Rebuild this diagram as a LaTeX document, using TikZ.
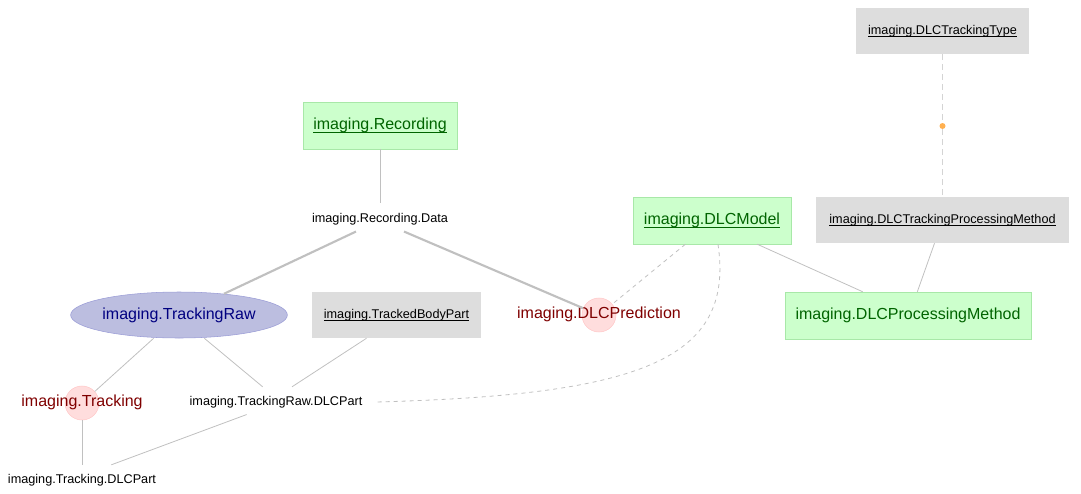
\documentclass[tikz,border=0pt]{standalone}
\usepackage{amsmath}
\usepackage{fontspec}
\setmainfont{Liberation Sans}
\usepackage{tikz}
\usetikzlibrary{positioning, shapes.geometric}

\definecolor{manfill}{HTML}{CCFFCC}
\definecolor{mandraw}{HTML}{A8E8A8}
\definecolor{mantext}{HTML}{006400}
\definecolor{lookfill}{HTML}{DDDDDD}
\definecolor{compfill}{HTML}{FFDDDD}
\definecolor{compdraw}{HTML}{FFC8C8}
\definecolor{comptext}{HTML}{7F0000}
\definecolor{impfill}{HTML}{BCBEE0}
\definecolor{impdraw}{HTML}{9A9CD6}
\definecolor{imptext}{HTML}{000080}
\definecolor{edgegray}{HTML}{C0C0C0}
\definecolor{dotorange}{HTML}{FFB050}

\newcommand{\tbl}[1]{\underline{\smash[b]{#1}}}

\begin{document}
\begin{tikzpicture}[
  x=0.75pt, y=-0.75pt,
  every node/.style={font=\fontsize{9.5}{11}\selectfont, inner sep=0pt,
                     text height=6.8pt, text depth=1.6pt},
  manual/.style={draw=mandraw, fill=manfill, text=mantext,
                 font=\fontsize{12}{14}\selectfont, minimum height=35.25pt,
                 text height=8.6pt, text depth=2pt},
  lookup/.style={fill=lookfill, text=black, minimum height=34.5pt},
  computed/.style={circle, draw=compdraw, fill=compfill, minimum size=25.5pt},
  comptxt/.style={text=comptext, font=\fontsize{12}{14}\selectfont,
                  text height=8.6pt, text depth=2pt},
  imported/.style={ellipse, draw=impdraw, fill=impfill, text=imptext,
                   font=\fontsize{12}{14}\selectfont,
                   text height=8.6pt, text depth=2pt,
                   minimum width=162pt, minimum height=34.5pt},
  joint/.style={circle, fill=dotorange, minimum size=4.5pt,
                text height=0pt, text depth=0pt},
  part/.style={text=black},
  lnk/.style={edgegray, line width=0.6pt},
  master/.style={edgegray, line width=1.6pt},
  dep/.style={edgegray, line width=0.6pt, dashed},
  lkp/.style={lookfill!90!gray, line width=1.2pt, dash pattern=on 4.5pt off 3pt}
]
\useasboundingbox (0,0) rectangle (1081,493);

%--- Top: recording and its part ---
\node[manual, minimum width=115.5pt] (rec) at (380,125.5) {\tbl{imaging.Recording}};
\node[part] (recdata) at (380,219) {imaging.Recording.Data};

%--- Lookups ---
\node[lookup, minimum width=129.75pt] (ttype) at (942.5,31) {\tbl{imaging.DLCTrackingType}};
\node[lookup, minimum width=189.75pt] (tpm) at (942.5,220) {\tbl{imaging.DLCTrackingProcessingMethod}};
\node[lookup, minimum width=126.75pt] (body) at (396.5,315) {\tbl{imaging.TrackedBodyPart}};
\node[joint] (dot) at (942.5,126) {};

%--- Middle row ---
\node[manual, minimum width=118.5pt] (model) at (712,220.5) {\tbl{imaging.DLCModel}};
\node[manual, minimum width=184.5pt] (pmethod) at (908,315.5) {imaging.DLCProcessingMethod};
\node[imported] (raw) at (179,315) {imaging.TrackingRaw};
\node[computed] (pred) at (599,315) {};
\node[comptxt] (predtxt) at (599,314.5) {imaging.DLCPrediction};

%--- Bottom ---
\node[computed] (trk) at (82,403) {};
\node[comptxt] (trktxt) at (82,402.5) {imaging.Tracking};
\node[part] (rawpart) at (276,402) {imaging.TrackingRaw.DLCPart};
\node[part] (trkpart) at (82,480) {imaging.Tracking.DLCPart};

%--- Edges ---
\draw[lnk] (rec) -- ([yshift=7.5pt]recdata.north);
\draw[master] ([xshift=-18pt,yshift=-5pt]recdata.south) -- (raw);
\draw[master] ([xshift=18pt,yshift=-5pt]recdata.south) -- (pred);
\draw[dep] ([xshift=-20pt]model.south) -- (pred);
\draw[dep] ([xshift=4.5pt]model.south) .. controls (735,360) and (640,395) .. ([xshift=10pt]rawpart.east);
\draw[lnk] ([xshift=34pt]model.south) -- ([xshift=-34pt]pmethod.north);
\draw[lnk] ([xshift=-6pt]tpm.south) -- ([xshift=7pt]pmethod.north);
\draw[lkp] (ttype) -- (dot);
\draw[lkp] (dot) -- (tpm);

\draw[lnk] (raw.south) ++(-19pt,0) -- (trk);
\draw[lnk] ([xshift=19pt]raw.south) -- ([xshift=-10pt,yshift=7pt]rawpart.north);
\draw[lnk] ([xshift=-22.5pt]body.south) -- ([xshift=12pt,yshift=7pt]rawpart.north);
\draw[lnk] ([xshift=-22pt,yshift=-5pt]rawpart.south) -- ([xshift=22pt,yshift=7pt]trkpart.north);
\draw[lnk] (trk) -- ([yshift=7pt]trkpart.north);
\end{tikzpicture}
\end{document}
